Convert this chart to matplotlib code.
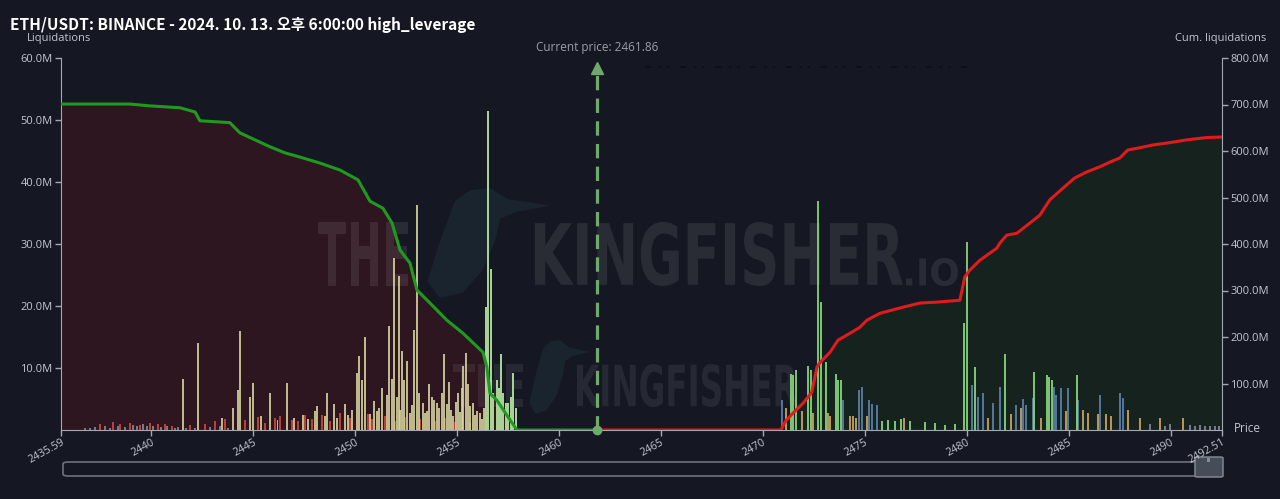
import matplotlib
matplotlib.use("Agg")
import matplotlib.pyplot as plt
from matplotlib.textpath import TextPath
from matplotlib.patches import PathPatch, FancyBboxPatch, Polygon
from matplotlib.font_manager import FontProperties
from matplotlib.transforms import Affine2D
from matplotlib.ticker import FuncFormatter, FixedLocator

# ---------------- data ----------------
title = "ETH/USDT: BINANCE - 2024. 10. 13. 오후 6:00:00 high_leverage"
current_price = 2461.86
x_min, x_max = 2435.59, 2492.51
x_ticks = [2435.59, 2440, 2445, 2450, 2455, 2460, 2465, 2470, 2475, 2480, 2485, 2490, 2492.51]
x_tick_labels = ["2435.59", "2440", "2445", "2450", "2455", "2460", "2465", "2470",
                 "2475", "2480", "2485", "2490", "2492.51"]
left_ticks = [10, 20, 30, 40, 50, 60]          # M
right_ticks = [100, 200, 300, 400, 500, 600, 700, 800]  # M

# cumulative short-side liquidations (below price), in M
green_cum_price = [2435.59, 2438.97, 2439.95, 2441.42, 2442.16, 2442.40, 2443.87, 2444.36,
                   2445.10, 2445.84, 2446.57, 2447.30, 2448.29, 2449.27, 2450.15, 2450.74,
                   2451.37, 2451.82, 2452.21, 2452.70, 2453.04, 2453.68, 2454.51, 2455.30,
                   2456.28, 2456.47, 2456.62, 2456.96, 2457.94, 2461.86]
green_cum_value = [701, 701, 697, 693, 684, 665, 661, 639,
                   624, 609, 596, 587, 574, 559, 538, 492,
                   477, 445, 387, 359, 301, 273, 236, 208,
                   167, 135, 79, 64, 0, 0]

# cumulative long-side liquidations (above price), in M
red_cum_price = [2461.86, 2470.88, 2471.13, 2471.47, 2471.96, 2472.40, 2472.65, 2472.80,
                 2473.29, 2473.68, 2474.27, 2474.76, 2475.10, 2475.74, 2476.86, 2477.70,
                 2478.53, 2479.66, 2479.90, 2480.15, 2480.64, 2481.47, 2481.62, 2481.96,
                 2482.45, 2483.09, 2483.58, 2484.07, 2484.71, 2485.29, 2485.88, 2486.52,
                 2487.01, 2487.50, 2487.89, 2488.48, 2489.12, 2489.81, 2490.79, 2491.77,
                 2492.51]
red_cum_value = [0, 0, 20, 36, 57, 81, 135, 145,
                 167, 193, 208, 221, 236, 251, 264, 273,
                 275, 279, 329, 344, 365, 391, 402, 419,
                 423, 445, 462, 495, 520, 542, 555, 566,
                 576, 585, 602, 607, 613, 617, 624, 629,
                 630]

# individual liquidation bars (M)
yellow_left_price = [2441.57, 2442.31, 2444.02, 2444.27, 2444.36, 2444.85, 2445.00, 2445.84,
                     2446.67, 2448.14, 2448.63, 2448.97, 2449.51, 2450.10, 2450.20, 2450.34,
                     2450.49, 2451.08, 2451.18, 2451.33, 2451.57, 2451.67, 2451.82, 2451.91,
                     2452.06, 2452.16, 2452.31, 2452.40, 2452.55, 2452.70, 2452.89, 2453.04,
                     2453.14, 2453.34, 2453.53, 2453.63, 2453.78, 2453.87, 2454.02, 2454.12,
                     2454.27, 2454.36, 2454.51, 2454.61, 2454.81, 2455.05, 2455.25, 2455.30,
                     2455.44, 2455.54, 2455.79, 2455.98, 2456.13,
                     2447.45, 2447.70, 2448.04, 2448.53, 2449.12, 2449.66, 2449.85, 2450.74,
                     2450.93, 2452.21, 2452.80, 2453.43, 2454.71, 2454.95, 2455.15, 2455.64,
                     2455.88, 2456.23, 2456.32, 2443.48, 2445.40, 2446.20, 2447.00]
yellow_left_value = [8.3, 14.1, 3.6, 6.5, 15.9, 5.4, 7.6, 5.9,
                     7.6, 3.9, 6.0, 4.2, 4.2, 9.2, 12.0, 8.0,
                     15.0, 3.1, 3.6, 6.7, 5.6, 16.8, 8.3, 27.8,
                     5.3, 24.9, 12.8, 8.0, 11.2, 2.7, 16.2, 36.3,
                     5.9, 4.4, 3.1, 7.5, 5.3, 4.8, 4.4, 3.6,
                     5.9, 12.3, 4.2, 7.7, 2.3, 5.9, 6.7, 10.4,
                     12.5, 7.4, 4.3, 3.1, 2.7,
                     2.5, 1.8, 3.0, 2.2, 1.9, 2.4, 3.2, 2.6,
                     4.6, 3.2, 4.0, 2.8, 3.3, 4.5, 2.9, 3.8,
                     2.4, 1.8, 3.6, 1.9, 2.2, 1.6, 2.0]

lightgreen_left_price = [2456.42, 2456.52, 2456.67, 2456.77, 2456.96, 2457.06, 2457.16,
                         2457.26, 2457.40, 2457.50, 2457.65, 2457.75, 2457.89]
lightgreen_left_value = [19.8, 51.5, 25.9, 5.9, 8.0, 6.7, 12.3,
                         5.9, 4.4, 4.4, 5.3, 9.2, 3.6]

red_left_price = [2437.50, 2438.14, 2438.48, 2438.97, 2439.46, 2439.95, 2440.34, 2440.69,
                  2441.03, 2441.91, 2442.65, 2443.14, 2443.63, 2444.61, 2445.25, 2445.59,
                  2446.08, 2446.33, 2446.91, 2447.21, 2447.55, 2447.89, 2448.38, 2448.78,
                  2449.27, 2449.76, 2450.64, 2450.84, 2451.47, 2451.96, 2452.45, 2453.19,
                  2453.92, 2454.41, 2454.90, 2455.64]
red_left_value = [1.0, 1.3, 0.9, 1.1, 0.8, 1.2, 0.9, 1.0,
                  0.7, 0.8, 1.0, 1.4, 1.8, 1.6, 2.1, 1.2,
                  1.9, 2.2, 1.6, 1.5, 2.4, 1.8, 2.5, 1.4,
                  2.8, 2.0, 2.6, 1.8, 2.3, 1.4, 2.1, 1.7,
                  1.5, 2.0, 1.3, 1.1]

gray_left_price = [2436.77, 2437.01, 2437.26, 2437.75, 2437.99, 2438.38, 2438.73, 2439.12,
                   2439.32, 2439.61, 2439.81, 2440.10, 2440.49, 2440.79, 2441.18, 2441.33,
                   2441.72, 2442.16, 2442.89, 2443.38, 2443.78]
gray_left_value = [0.4, 0.3, 0.5, 0.6, 0.4, 0.7, 0.5, 0.8,
                   0.6, 0.9, 0.7, 0.6, 0.5, 0.7, 0.4, 0.5,
                   0.3, 0.4, 0.5, 0.6, 0.4]

green_right_price = [2471.37, 2471.47, 2471.62, 2472.21, 2472.35, 2472.70, 2472.84, 2473.09,
                     2473.58, 2473.68, 2473.83, 2479.85, 2480.00, 2480.39, 2481.86, 2483.29,
                     2483.92, 2484.02, 2484.17, 2485.39,
                     2475.84, 2476.13, 2476.47, 2476.77, 2477.21, 2477.94, 2478.43, 2478.92,
                     2479.41]
green_right_value = [9.1, 8.8, 9.6, 10.4, 9.6, 37.0, 20.6, 10.9,
                     9.1, 8.0, 8.1, 17.3, 30.3, 10.1, 12.3, 9.4,
                     8.8, 8.6, 8.1, 8.8,
                     1.5, 1.6, 1.4, 1.7, 1.5, 1.3, 1.2, 0.8,
                     0.9]

blue_right_price = [2470.93, 2473.92, 2474.71, 2474.85, 2475.20, 2475.34, 2475.59, 2480.25,
                    2480.54, 2480.79, 2481.28, 2481.62, 2482.40, 2482.75, 2482.89, 2483.24,
                    2484.27, 2484.36, 2484.61, 2484.95, 2485.44, 2486.52, 2487.50, 2487.65]
blue_right_value = [4.8, 4.8, 6.4, 7.0, 4.8, 4.2, 4.1, 7.2,
                    5.3, 6.0, 4.4, 6.9, 4.1, 5.0, 4.0, 5.1,
                    6.9, 5.6, 6.7, 6.7, 4.8, 5.6, 6.0, 5.1]

orange_right_price = [2471.13, 2471.91, 2472.45, 2473.19, 2473.29, 2474.27, 2474.41, 2474.56,
                      2475.10, 2476.91, 2481.03, 2482.16, 2482.65, 2483.63, 2484.85, 2485.69,
                      2485.93, 2486.42, 2486.82, 2487.06, 2487.89, 2488.48, 2489.46, 2490.59]
orange_right_value = [3.6, 3.1, 2.8, 2.7, 2.3, 2.3, 2.3, 2.0,
                      2.3, 1.9, 2.0, 2.6, 3.5, 2.0, 3.0, 3.3,
                      2.8, 2.6, 2.6, 2.3, 3.3, 2.0, 2.0, 2.0]

gray_right_price = [2488.97, 2489.71, 2489.95, 2490.93, 2491.18, 2491.42, 2491.67, 2491.91,
                    2492.16, 2492.35]
gray_right_value = [0.9, 0.7, 0.9, 0.8, 0.7, 0.8, 0.6, 0.7, 0.6, 0.6]

# ---------------- style ----------------
W, H = 1280, 499
BG = "#151823"
RED_FILL = "#2d1620"
GREEN_FILL = "#16221e"
TXT = "#c3c6ce"
SPINE = "#a3a8b2"
BASE_FONT = ["Open Sans", "DejaVu Sans"]

fig = plt.figure(figsize=(W / 100, H / 100), dpi=100, facecolor=BG)
rect = [61 / W, (H - 430) / H, (1222 - 61) / W, (430 - 58) / H]
ax1 = fig.add_axes(rect)
ax2 = ax1.twinx()
ax1.set_zorder(2)
ax2.set_zorder(1)
ax1.patch.set_visible(False)
ax2.set_facecolor(BG)

ax1.set_xlim(x_min, x_max)
ax1.set_ylim(0, 60)
ax2.set_ylim(0, 800)

# fills under the cumulative curves
ax2.fill_between(green_cum_price, green_cum_value, 0, color=RED_FILL, lw=0, zorder=1)
ax2.fill_between(red_cum_price, red_cum_value, 0, color=GREEN_FILL, lw=0, zorder=1)


def fig_pix():
    # pixel (from top-left) -> figure fraction
    return Affine2D().scale(1 / W, -1 / H).translate(0, 1) + fig.transFigure


# watermark text (scaled to fit boxes in pixel coordinates)
def watermark(text, x0, x1, ytop, ybot, alpha, size_ref=100):
    fp = FontProperties(family="DejaVu Sans", weight="bold")
    tp = TextPath((0, 0), text, size=size_ref, prop=fp)
    ext = tp.get_extents()
    sx = (x1 - x0) / ext.width
    sy = (ybot - ytop) / ext.height
    tr = (Affine2D().translate(-ext.x0, -ext.y0).scale(sx / W, sy / H)
          .translate(x0 / W, (H - ybot) / H))
    p = PathPatch(tp, facecolor="white", edgecolor="none", alpha=alpha,
                  transform=tr + fig.transFigure, zorder=2)
    p.set_clip_on(False)
    ax2.add_artist(p)


# rough kingfisher silhouette (normalised 0..1 box, y downward)
BIRD = [(1.00, 0.16), (0.66, 0.10), (0.52, 0.00), (0.36, 0.02), (0.24, 0.12),
        (0.18, 0.30), (0.10, 0.55), (0.02, 0.85), (0.12, 1.00), (0.30, 0.95),
        (0.46, 0.75), (0.56, 0.48), (0.60, 0.28), (0.72, 0.22)]


def bird(x0, y0, w, h, alpha):
    pts = [(x0 + u * w, y0 + v * h) for u, v in BIRD]
    p = Polygon(pts, closed=True, facecolor="#2f5560", edgecolor="none", alpha=alpha,
                transform=fig_pix(), zorder=2)
    p.set_clip_on(False)
    ax2.add_artist(p)


bird(425, 188, 125, 110, 0.2)
bird(528, 340, 62, 74, 0.2)
watermark("THE", 318, 408, 222, 286, 0.085)
watermark("KINGFISHER", 535, 903, 222, 286, 0.085)
watermark(".IO", 906, 958, 258, 286, 0.085)
watermark("THE", 453, 523, 364, 407, 0.075)
watermark("KINGFISHER", 577, 797, 364, 407, 0.075)

# bars
bw = 0.085
ax1.bar(gray_left_price, gray_left_value, width=bw, color="#8c91a6", alpha=0.8, zorder=3)
ax1.bar(red_left_price, red_left_value, width=bw, color="#c8473f", alpha=0.9, zorder=3)
ax1.bar(yellow_left_price, yellow_left_value, width=bw, color="#d9d7a0", alpha=0.85, zorder=3)
ax1.bar(lightgreen_left_price, lightgreen_left_value, width=bw, color="#b9e6a2", alpha=0.9, zorder=3)
ax1.bar(blue_right_price, blue_right_value, width=bw, color="#5c7fa8", alpha=0.9, zorder=3)
ax1.bar(orange_right_price, orange_right_value, width=bw, color="#c9a45f", alpha=0.9, zorder=3)
ax1.bar(green_right_price, green_right_value, width=bw, color="#86d67c", alpha=0.9, zorder=3)
ax1.bar(gray_right_price, gray_right_value, width=bw, color="#8c91a6", alpha=0.8, zorder=3)

# cumulative lines (drawn above bars, in cum-axis units)
ax1.plot(green_cum_price, green_cum_value, color="#1f9a1f", lw=2.2, zorder=5,
         transform=ax2.transData, solid_joinstyle="round")
ax1.plot(red_cum_price, red_cum_value, color="#e01b1b", lw=2.2, zorder=5,
         transform=ax2.transData, solid_joinstyle="round")

# current price marker
CP_COL = "#6fa96b"
ax1.plot([current_price, current_price], [0, 57.6], color=CP_COL, lw=2.3,
         ls=(0, (4.5, 2.6)), zorder=6, clip_on=False)
ax1.plot([current_price], [58.4], marker="^", ms=9, color=CP_COL, zorder=6, clip_on=False)
ax1.plot([current_price], [0], marker="o", ms=6, color=CP_COL, zorder=7, clip_on=False)
ax1.text(current_price, 61.7, f"Current price: {current_price:.2f}", ha="center", va="center",
         fontsize=8.5, color="#9a9ea9", family=BASE_FONT, clip_on=False)
# faint dotted artifact near the top
ax1.plot([2464.2, 2480.4], [58.5, 58.5], color="#0c0e15", lw=1.1,
         ls=(0, (4, 5, 1.5, 4, 1.5, 7)), zorder=4, clip_on=False)

# axes styling
for s in ["top", "right"]:
    ax1.spines[s].set_visible(False)
for s in ["top", "left", "bottom"]:
    ax2.spines[s].set_visible(False)
ax1.spines["left"].set_color(SPINE)
ax1.spines["bottom"].set_color(SPINE)
ax2.spines["right"].set_color(SPINE)

ax1.xaxis.set_major_locator(FixedLocator(x_ticks))
ax1.set_xticklabels(x_tick_labels, rotation=29, ha="right", rotation_mode="anchor",
                    fontsize=7.8, color=TXT, family=BASE_FONT)
ax1.tick_params(axis="x", colors=SPINE, length=4, width=1, pad=1)
for lbl in ax1.get_xticklabels():
    lbl.set_color(TXT)

ax1.yaxis.set_major_locator(FixedLocator(left_ticks))
ax1.yaxis.set_major_formatter(FuncFormatter(lambda v, p: f"{v:.1f}M"))
ax1.tick_params(axis="y", colors=SPINE, length=4, width=1, labelsize=8, labelcolor=TXT, pad=2)
ax2.yaxis.set_major_locator(FixedLocator(right_ticks))
ax2.yaxis.set_major_formatter(FuncFormatter(lambda v, p: f"{v:.1f}M"))
ax2.tick_params(axis="y", colors=SPINE, length=4, width=1, labelsize=8, labelcolor=TXT, pad=2)
for lbl in ax1.get_yticklabels() + ax2.get_yticklabels():
    lbl.set_family(BASE_FONT)

# labels
fig.text(10 / W, (H - 25) / H, title, ha="left", va="center", fontsize=11.1,
         fontweight="bold", color="white", family=["Noto Sans CJK KR", "DejaVu Sans"])
fig.text(59 / W, (H - 39) / H, "Liquidations", ha="center", va="center", fontsize=8,
         color=TXT, family=BASE_FONT)
fig.text(1221 / W, (H - 38) / H, "Cum. liquidations", ha="center", va="center", fontsize=8,
         color=TXT, family=BASE_FONT)
fig.text(1247 / W, (H - 428) / H, "Price", ha="center", va="center", fontsize=8.5,
         color=TXT, family=BASE_FONT)

# range slider at the bottom
slider = FancyBboxPatch((63 / W, (H - 476) / H), (1222 - 63) / W, 14 / H,
                        boxstyle="round,pad=0,rounding_size=0.004",
                        transform=fig.transFigure, facecolor="none", edgecolor="#6d717c", lw=1.2)
fig.add_artist(slider)
handle = FancyBboxPatch((1195 / W, (H - 477) / H), 28 / W, 20 / H,
                        boxstyle="round,pad=0,rounding_size=0.002",
                        transform=fig.transFigure, facecolor="#474c59", edgecolor="#8a8e99", lw=1)
fig.add_artist(handle)
fig.text(1209 / W, (H - 460) / H, "III", ha="center", va="center", fontsize=4, color="#d0d3da",
         family=BASE_FONT)

fig.savefig("out.png", dpi=100, facecolor=BG)
